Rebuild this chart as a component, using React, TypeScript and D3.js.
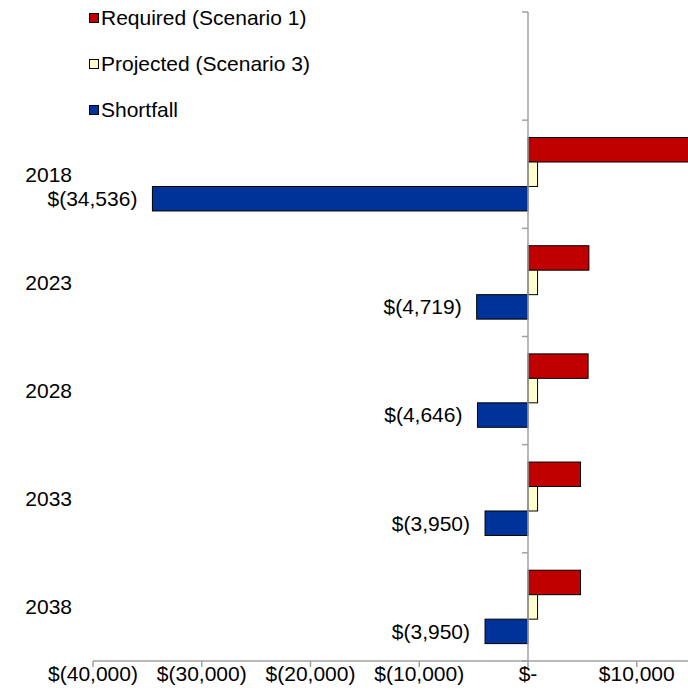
import React from "react";
import * as d3 from "d3";

const years = ["2018", "2023", "2028", "2033", "2038"];
const required = [35416, 5599, 5526, 4830, 4830];
const projected = [880, 880, 880, 880, 880];
const shortfall = [-34536, -4719, -4646, -3950, -3950];
const seriesNames = ["Required (Scenario 1)", "Projected (Scenario 3)", "Shortfall"];
const seriesColors = ["#C00000", "#FFFFCC", "#003399"];
const xTicks = [-40000, -30000, -20000, -10000, 0, 10000];

const W = 688;
const H = 698;
const FONT = "'Liberation Sans', Arial, sans-serif";
const FS = 21;

const fmt = (v: number) => {
  if (v === 0) return "$-";
  const s = d3.format(",")(Math.abs(v));
  return v < 0 ? `$(${s})` : `$${s}`;
};

export default function App() {
  const x0 = 528;
  const unit = 108.75 / 10000;
  const x = d3.scaleLinear().domain([-40000, 10000]).range([x0 - 40000 * unit, x0 + 10000 * unit]);
  const top = 12;
  const bottom = 661;
  const slots = ["", ...years];
  const y = d3.scaleBand().domain(slots).range([top, bottom]).paddingInner(0).paddingOuter(0);
  const inner = d3
    .scaleBand()
    .domain(["0", "1", "2"])
    .range([0, y.bandwidth()])
    .paddingInner(0)
    .paddingOuter(0.71);

  const series = [required, projected, shortfall];

  const boundaries = slots.map((s) => y(s) as number).concat([bottom]);

  return (
    <svg
      width={W}
      height={H}
      style={{ position: "absolute", left: 0, top: 0, background: "#fff" }}
      fontFamily={FONT}
    >
      {/* bars */}
      {years.map((yr, i) => (
        <g key={yr}>
          {series.map((s, j) => {
            const v = s[i];
            const bx = x(Math.min(0, v));
            const bw = Math.abs(x(v) - x(0));
            const by = (y(yr) as number) + (inner(String(j)) as number);
            return (
              <rect
                key={j}
                x={bx}
                y={by}
                width={bw}
                height={inner.bandwidth()}
                fill={seriesColors[j]}
                stroke="#000"
                strokeWidth={1}
              />
            );
          })}
          <text
            x={x(shortfall[i]) - 15}
            y={(y(yr) as number) + (inner("2") as number) + inner.bandwidth() / 2}
            dy="0.35em"
            textAnchor="end"
            fontSize={FS}
            fill="#000"
          >
            {fmt(shortfall[i])}
          </text>
          <text
            x={72}
            y={(y(yr) as number) + y.bandwidth() / 2}
            dy="0.35em"
            textAnchor="end"
            fontSize={FS}
            fill="#000"
          >
            {yr}
          </text>
        </g>
      ))}

      {/* vertical axis at zero */}
      <line x1={x(0)} x2={x(0)} y1={top} y2={bottom} stroke="#A0A0A0" strokeWidth={1.5} />
      {boundaries.map((b, i) => (
        <line key={i} x1={x(0) - 6} x2={x(0)} y1={b} y2={b} stroke="#A0A0A0" strokeWidth={1.5} />
      ))}

      {/* horizontal axis */}
      <line x1={x(-40000)} x2={W} y1={bottom} y2={bottom} stroke="#A0A0A0" strokeWidth={1.5} />
      {xTicks.map((t) => (
        <g key={t}>
          <line x1={x(t)} x2={x(t)} y1={bottom} y2={bottom + 6} stroke="#A0A0A0" strokeWidth={1.5} />
          <text x={x(t)} y={bottom + 20} textAnchor="middle" fontSize={FS} fill="#000">
            {fmt(t)}
          </text>
        </g>
      ))}

      {/* legend */}
      {seriesNames.map((n, i) => {
        const cy = 18 + i * 46;
        return (
          <g key={n}>
            <rect x={89.5} y={cy - 4.5} width={9} height={9} fill={seriesColors[i]} stroke="#000" strokeWidth={1} />
            <text x={101} y={cy} dy="0.35em" fontSize={FS} fill="#000">
              {n}
            </text>
          </g>
        );
      })}
    </svg>
  );
}
